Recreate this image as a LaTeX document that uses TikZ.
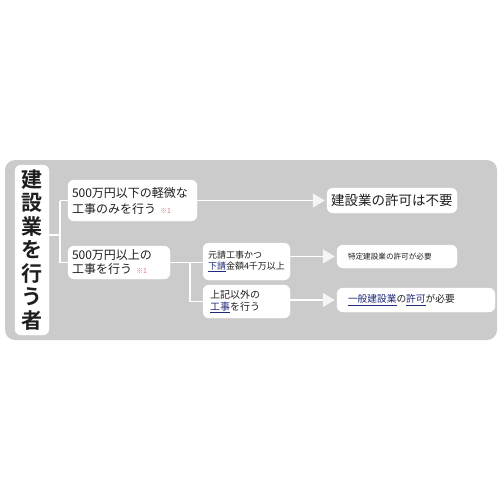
\documentclass[tikz,border=0pt]{standalone}
\usepackage{fontspec}
\newfontfamily\jpfont{Noto Sans CJK JP}
\newfontfamily\jpbold{Noto Sans CJK JP Bold}
\usepackage{xcolor}
\usepackage{tikz}
\usetikzlibrary{positioning,calc,arrows.meta}

\definecolor{panelgray}{HTML}{CBCBCB}
\definecolor{textdark}{HTML}{1E1E1E}
\definecolor{linknavy}{HTML}{1F2A7A}
\definecolor{notepink}{HTML}{E07A7A}

\begin{document}
\begin{tikzpicture}[
        x=1pt, y=-1pt,
        % Style cho khung trắng
        box/.style={
            rectangle,
            draw=white,
            fill=white,
            rounded corners=6pt,
            text=textdark,
            inner sep=0pt,
            align=left,
            font=\jpfont\fontsize{9}{11}\selectfont
        },
        % Style cho khung chính bên trái
        leadbox/.style={
            box,
            align=center,
            font=\jpbold\fontsize{21}{23.5}\selectfont
        },
        % Style cạnh nối
        link/.style={
            draw=white,
            line width=1.4pt
        },
        % Style mũi tên
        flow/.style={
            link,
            -{Triangle[length=12pt,width=14pt,fill=white!92!gray,color=white!92!gray]},
            shorten >=2pt
        }
    ]
        \useasboundingbox (0,0) rectangle (500,500);

        % --- NỀN XÁM ---
        \fill[panelgray, rounded corners=10pt] (5,160) rectangle (497,340);

        % --- VẼ CÁC NÚT ---
        % Khung trái
        \node[leadbox, minimum width=34pt, minimum height=170pt] (lead) at (32,250)
            {建\\設\\業\\を\\行\\う\\者};

        % Cột thứ nhất
        \node[box, minimum width=129pt, minimum height=41pt, text width=121pt,
              font=\jpfont\fontsize{12}{16}\selectfont] (small) at (132.5,200.5)
            {500万円以下の軽微な\\工事のみを行う {\color{notepink}\fontsize{7}{8}\selectfont ※1}};
        \node[box, minimum width=102pt, minimum height=33pt, text width=94pt,
              font=\jpfont\fontsize{12}{14}\selectfont] (large) at (119,262.5)
            {500万円以上の\\工事を行う {\color{notepink}\fontsize{7}{8}\selectfont ※1}};

        % Cột thứ hai
        \node[box, minimum width=87pt, minimum height=37pt, text width=77pt] (prime) at (246.5,261.5)
            {元請工事かつ\\\textcolor{linknavy}{\underline{下請}}金額4千万以上};
        \node[box, minimum width=87pt, minimum height=33pt, text width=73pt,
              font=\jpfont\fontsize{10}{12}\selectfont] (other) at (246.5,301.5)
            {上記以外の\\\textcolor{linknavy}{\underline{工事}}を行う};

        % Kết quả
        \node[box, minimum width=130pt, minimum height=25pt, text width=122pt,
              font=\jpfont\fontsize{13.5}{15}\selectfont] (nopermit) at (392,200.5)
            {建設業の許可は不要};
        \node[box, minimum width=120pt, minimum height=23pt, text width=98pt,
              font=\jpfont\fontsize{7.6}{9}\selectfont] (special) at (397,256.5)
            {特定建設業の許可が必要};
        \node[box, minimum width=158pt, minimum height=24pt, text width=136pt,
              font=\jpfont\fontsize{9.7}{11}\selectfont] (general) at (416,300)
            {\textcolor{linknavy}{\underline{一般建設業}}の\textcolor{linknavy}{\underline{許可}}が必要};

        % --- VẼ CẠNH ---
        \coordinate (stub) at (lead.east |- 0,235);
        \coordinate (fork) at (60,235);
        \coordinate (split) at (190,262.5);
        \draw[link] (stub) -- (fork);
        \draw[link] (small.west -| fork) -- (large.west -| fork);
        \draw[link] (small.west -| fork) -- (small.west);
        \draw[link] (large.west -| fork) -- (large.west);
        \draw[link] (large.east) -- (prime.west |- large.east);
        \draw[link] (split) -- (split |- other.west) -- (other.west);

        % --- VẼ MŨI TÊN ---
        \draw[flow] (small.east) -- (nopermit.west);
        \draw[flow] (prime.east |- special.west) -- (special.west);
        \draw[flow] (other.east |- general.west) -- (general.west);

    \end{tikzpicture}
\end{document}
